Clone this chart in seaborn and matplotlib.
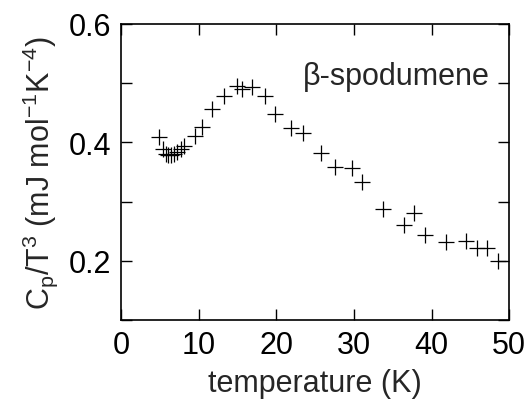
import matplotlib
matplotlib.use("Agg")
import matplotlib.pyplot as plt
import seaborn as sns
import pandas as pd
from matplotlib.ticker import MultipleLocator

temperature = [4.9, 5.35, 5.8, 6.1, 6.4, 6.85, 7.27, 7.7, 8.13, 9.5, 10.4,
               11.7, 13.3, 15.0, 15.65, 16.9, 18.5, 19.9, 21.9, 23.5, 25.75,
               27.6, 29.8, 31.1, 33.7, 36.4, 37.8, 39.15, 41.8, 44.5, 45.8,
               47.1, 48.5]
cp_t3 = [0.409, 0.388, 0.381, 0.378, 0.379, 0.381, 0.384, 0.389, 0.393, 0.411,
         0.426, 0.457, 0.478, 0.496, 0.490, 0.494, 0.478, 0.448, 0.424, 0.416,
         0.382, 0.358, 0.357, 0.333, 0.288, 0.261, 0.280, 0.244, 0.232, 0.233,
         0.222, 0.222, 0.200]

df = pd.DataFrame({"T": temperature, "C": cp_t3})

sns.set_style("ticks")
plt.rcParams["font.family"] = ["Liberation Sans", "DejaVu Sans"]
plt.rcParams["mathtext.fontset"] = "custom"
plt.rcParams["mathtext.rm"] = "Liberation Sans"
plt.rcParams["mathtext.it"] = "Liberation Sans"
plt.rcParams["mathtext.default"] = "regular"

fig = plt.figure(figsize=(5.26, 4.02), dpi=100)
ax = fig.add_axes([0.230, 0.2015, 0.738, 0.7365])

sns.scatterplot(data=df, x="T", y="C", marker="+", color="black", s=120,
                linewidth=0.9, ax=ax, legend=False)

ax.set_xlim(0, 50)
ax.set_ylim(0.1, 0.6)
ax.xaxis.set_major_locator(MultipleLocator(10))
ax.set_yticks([0.1, 0.2, 0.3, 0.4, 0.5, 0.6])
ax.set_yticklabels(["", "0.2", "", "0.4", "", "0.6"])
ax.tick_params(direction="in", length=8, width=1.0, top=True, right=True,
               labelsize=22, colors="black", pad=7)
for s in ax.spines.values():
    s.set_linewidth(1.2)
    s.set_color("black")

ax.set_xlabel("temperature (K)", fontsize=22, labelpad=6)
ax.set_ylabel(r"C$_p$/T$^3$ (mJ mol$^{-1}$K$^{-4}$)", fontsize=22, labelpad=6)
ax.text(47.5, 0.512, "β-spodumene", ha="right", va="center", fontsize=22)

fig.savefig("out.png", dpi=100)
